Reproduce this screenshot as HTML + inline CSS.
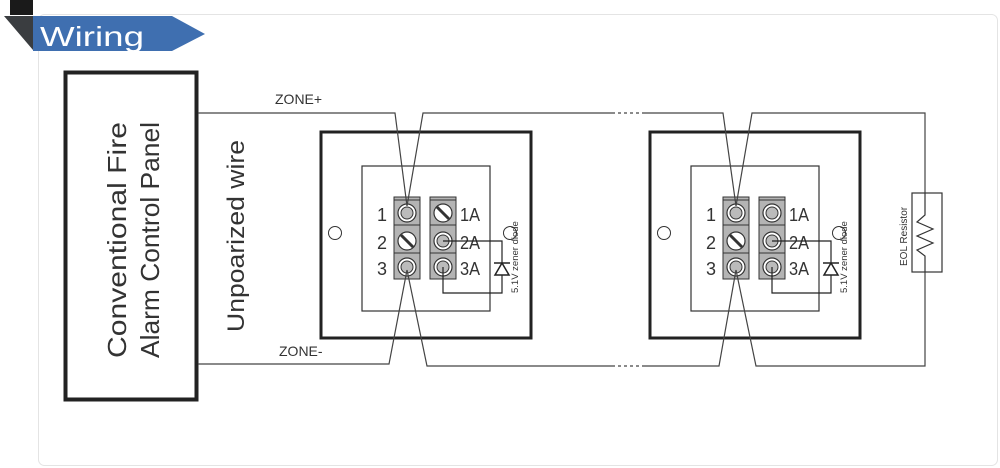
<!DOCTYPE html>
<html><head><meta charset="utf-8"><style>
html,body{margin:0;padding:0;background:#fff;width:1000px;height:468px;overflow:hidden}
svg{display:block}
text{font-family:"Liberation Sans",Arial,sans-serif}
</style></head><body>
<svg width="1000" height="468" viewBox="0 0 1000 468" xmlns="http://www.w3.org/2000/svg">
<defs>
<g id="term">
  <rect x="0" y="0" width="26" height="82" fill="#b4b4b4" stroke="#333" stroke-width="1"/>
  <line x1="0" y1="3" x2="26" y2="3" stroke="#333"/>
  <line x1="0" y1="28" x2="26" y2="28" stroke="#333"/>
  <line x1="0" y1="56" x2="26" y2="56" stroke="#333"/>
</g>
<g id="screwO"><circle r="9" fill="#fff" stroke="#333" stroke-width="1.2"/><circle r="6" fill="#bbb" stroke="#333" stroke-width="1"/></g>
<g id="screwS"><circle r="9" fill="#fff" stroke="#333" stroke-width="1.2"/><line x1="-6" y1="-6" x2="6" y2="6" stroke="#333" stroke-width="3"/></g>
<g id="module">
  <rect x="0" y="0" width="210" height="206" fill="none" stroke="#222" stroke-width="3"/>
  <rect x="41" y="34" width="128" height="145" fill="none" stroke="#333" stroke-width="1.2"/>
  <circle cx="14" cy="101" r="6.5" fill="#fff" stroke="#333"/>
  <circle cx="189" cy="101" r="6.5" fill="#fff" stroke="#333"/>
  <use href="#term" x="73" y="65"/>
  <use href="#term" x="109" y="65"/>
  <use href="#screwO" x="86" y="81"/>
  <use href="#screwS" x="86" y="109"/>
  <use href="#screwO" x="86" y="135"/>
  <use href="#screwO" x="122" y="109"/>
  <use href="#screwO" x="122" y="135"/>
  <text x="56" y="89" font-size="18" fill="#333" transform="scale(1,1)">1</text>
  <text x="56" y="117" font-size="18" fill="#333">2</text>
  <text x="56" y="143" font-size="18" fill="#333">3</text>
  <text x="139" y="89" font-size="18" fill="#333" textLength="20" lengthAdjust="spacingAndGlyphs">1A</text>
  <text x="139" y="117" font-size="18" fill="#333" textLength="20" lengthAdjust="spacingAndGlyphs">2A</text>
  <text x="139" y="143" font-size="18" fill="#333" textLength="20" lengthAdjust="spacingAndGlyphs">3A</text>
  <polyline points="122,109 181,109 181,161 122,161 122,135" fill="none" stroke="#222" stroke-width="1.2"/>
  <line x1="173" y1="131" x2="189" y2="131" stroke="#222" stroke-width="1.5"/>
  <polygon points="181,131 174,143 188,143" fill="#fff" stroke="#222" stroke-width="1.5"/>
  <text transform="translate(197,161) rotate(-90)" font-size="9.5" fill="#333">5.1V zener diode</text>
</g>
</defs>
<!-- card -->
<rect x="38.5" y="14.5" width="959" height="451" rx="6" fill="#fff" stroke="#e4e4e4"/>
<!-- banner -->
<rect x="10" y="0" width="23" height="15" fill="#1a1a1a"/>
<polygon points="4,16 33,16 33,50" fill="#3a3d40"/>
<polygon points="33,16 172,16 205,34 172,51 33,51" fill="#3f6fb0"/>
<text x="40" y="46" font-size="28" fill="#fff" font-family="'DejaVu Sans',sans-serif" textLength="104" lengthAdjust="spacingAndGlyphs">Wiring</text>
<!-- panel -->
<rect x="65.5" y="72.5" width="131" height="327" fill="#fff" stroke="#222" stroke-width="4"/>
<text transform="translate(126,240) rotate(-90)" text-anchor="middle" font-size="26" fill="#333" textLength="236" lengthAdjust="spacingAndGlyphs">Conventional  Fire</text>
<text transform="translate(159,240) rotate(-90)" text-anchor="middle" font-size="26" fill="#333" textLength="236" lengthAdjust="spacingAndGlyphs">Alarm Control  Panel</text>
<text transform="translate(244,236) rotate(-90)" text-anchor="middle" font-size="24" fill="#333" textLength="192" lengthAdjust="spacingAndGlyphs">Unpoarized  wire</text>
<text x="275" y="104" font-size="14" fill="#333">ZONE+</text>
<text x="279" y="356" font-size="14" fill="#333">ZONE-</text>
<!-- modules -->
<use href="#module" x="321" y="132"/>
<use href="#screwS" x="443" y="213"/>
<use href="#module" x="650" y="132"/>
<use href="#screwO" x="772" y="213"/>
<!-- wires -->
<g fill="none" stroke="#444" stroke-width="1.2">
<polyline points="198,113 395,113 407,206"/>
<polyline points="407,206 423,113 612,113"/>
<line x1="612" y1="113" x2="642" y2="113" stroke-dasharray="3,3"/>
<polyline points="642,113 723,113 736,206"/>
<polyline points="736,206 752,113 925,113 925,193"/>
<polyline points="198,364 389,364 407,270"/>
<polyline points="407,270 427,366 612,366"/>
<line x1="612" y1="366" x2="642" y2="366" stroke-dasharray="3,3"/>
<polyline points="642,366 719,366 736,270"/>
<polyline points="736,270 756,366 925,366 925,272"/>
</g>
<!-- resistor -->
<rect x="912" y="193" width="30" height="79" fill="#fff" stroke="#333" stroke-width="1.2"/>
<polyline points="925,193 925,215 917,222 933,229 917,236 933,243 917,250 925,256 925,272" fill="none" stroke="#333" stroke-width="1.2"/>
<text transform="translate(907,266) rotate(-90)" font-size="10" fill="#333">EOL Resistor</text>
</svg>
</body></html>
